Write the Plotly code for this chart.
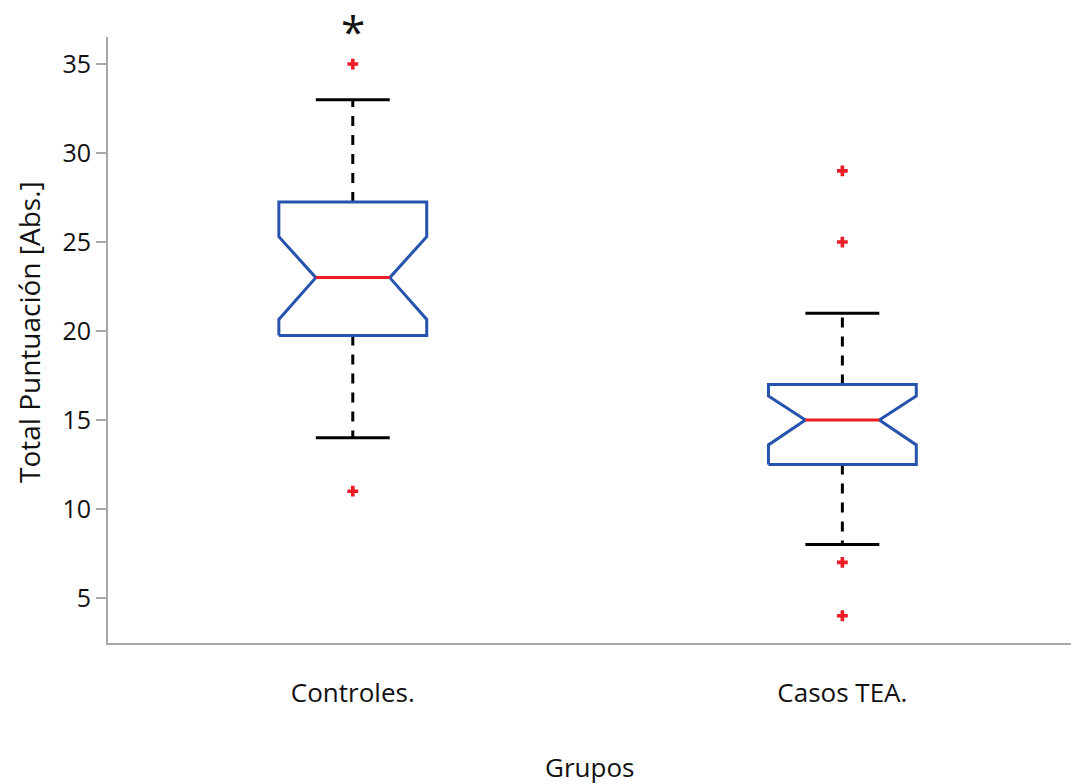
import plotly.graph_objects as go

# Group summary statistics (notched box plot)
groups = ["Controles.", "Casos TEA."]
positions = [1, 2]
q1 = [19.75, 12.5]
median = [23, 15]
q3 = [27.25, 17]
notch_lo = [20.65, 13.6]
notch_hi = [25.3, 16.35]
whisker_lo = [14, 8]
whisker_hi = [33, 21]
outliers = [[35, 11], [29, 25, 7, 4]]
y_ticks = [5, 10, 15, 20, 25, 30, 35]

BOX_HALF = 0.151
NOTCH_HALF = BOX_HALF / 2
BLUE = "#2553AE"
RED = "#ED1C24"
FONT = "Open Sans"

fig = go.Figure()

for i, x in enumerate(positions):
    # dashed whiskers
    for a, b in ((q3[i], whisker_hi[i]), (q1[i], whisker_lo[i])):
        fig.add_trace(go.Scatter(
            x=[x, x], y=[a, b], mode="lines",
            line=dict(color="black", width=3, dash="10px,9px"),
            hoverinfo="skip", showlegend=False))
    # whisker caps
    for w in (whisker_hi[i], whisker_lo[i]):
        fig.add_trace(go.Scatter(
            x=[x - NOTCH_HALF, x + NOTCH_HALF], y=[w, w], mode="lines",
            line=dict(color="black", width=3),
            hoverinfo="skip", showlegend=False))
    # notched box outline
    bx = [x - BOX_HALF, x + BOX_HALF, x + BOX_HALF, x + NOTCH_HALF, x + BOX_HALF,
          x + BOX_HALF, x - BOX_HALF, x - BOX_HALF, x - NOTCH_HALF, x - BOX_HALF,
          x - BOX_HALF]
    by = [q1[i], q1[i], notch_lo[i], median[i], notch_hi[i],
          q3[i], q3[i], notch_hi[i], median[i], notch_lo[i], q1[i]]
    fig.add_trace(go.Scatter(
        x=bx, y=by, mode="lines", fill="toself", fillcolor="white",
        line=dict(color=BLUE, width=3),
        hoverinfo="skip", showlegend=False))
    # median
    fig.add_trace(go.Scatter(
        x=[x - NOTCH_HALF, x + NOTCH_HALF], y=[median[i], median[i]], mode="lines",
        line=dict(color=RED, width=3),
        hoverinfo="skip", showlegend=False))
    # outliers
    fig.add_trace(go.Scatter(
        x=[x] * len(outliers[i]), y=outliers[i], mode="markers",
        marker=dict(symbol="cross", size=9, color=RED, line=dict(width=0)),
        showlegend=False))

# significance mark above the control group
fig.add_annotation(x=positions[0], y=max(outliers[0]), xref="x", yref="y", text="*",
                   showarrow=False, font=dict(family=FONT, size=44, color="#111"),
                   yanchor="middle", yshift=33)

fig.add_annotation(x=0.5, y=0, xref="paper", yref="paper", text="Grupos",
                   showarrow=False, yanchor="middle", yshift=-124,
                   font=dict(family=FONT, size=26, color="#111"))
fig.add_annotation(x=0, y=0.5, xref="paper", yref="paper", text="Total Puntuación [Abs.]",
                   showarrow=False, textangle=-90, xanchor="center", yanchor="middle",
                   xshift=-79, yshift=8,
                   font=dict(family=FONT, size=28, color="#111"))

fig.update_xaxes(
    range=[0.5, 2.467], tickvals=positions, ticktext=groups,
    showgrid=False, zeroline=False, showline=True, linecolor="#a8a8a8", linewidth=2,
    ticks="outside", ticklen=0, ticklabelstandoff=26,
    tickfont=dict(family=FONT, size=26, color="#111"))
fig.update_yaxes(
    range=[2.47, 36.52], tickvals=y_ticks,
    showgrid=False, zeroline=False, showline=True, linecolor="#a8a8a8", linewidth=2,
    ticks="outside", ticklen=10, tickcolor="#a8a8a8", tickwidth=1.5,
    tickfont=dict(family=FONT, size=25, color="#111"))

fig.update_layout(
    width=1071, height=784,
    margin=dict(l=108, r=0, t=37, b=141),
    plot_bgcolor="white", paper_bgcolor="white",
    showlegend=False)

fig.write_html("out.html")
